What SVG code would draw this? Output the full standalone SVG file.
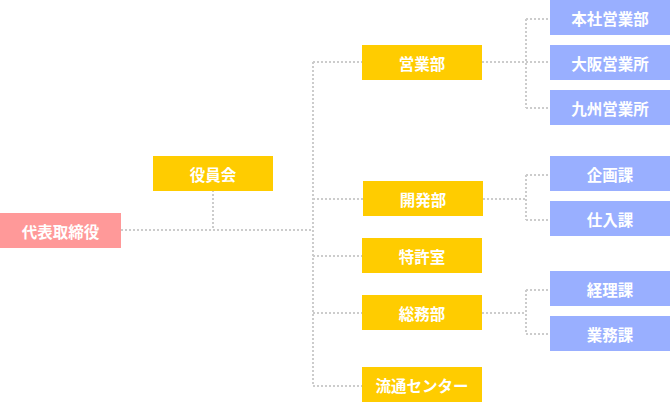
<svg xmlns="http://www.w3.org/2000/svg" width="670" height="402" viewBox="0 0 670 402">
<style>
.l{fill:none;stroke:#cccccc;stroke-width:2;stroke-dasharray:2 2}
.t{font-family:"Noto Sans CJK JP","Noto Sans",sans-serif;font-size:15.5px;font-weight:bold;fill:#ffffff;text-anchor:middle;dominant-baseline:central}
.y{fill:#ffcc00}.b{fill:#99afff}.p{fill:#ff9999}
</style>
<rect width="670" height="402" fill="#ffffff"/>
<g id="connectors">
<path class="l" d="M121 230H313"/>
<path class="l" d="M213 190V230"/>
<path class="l" d="M313 62V386"/>
<path class="l" d="M313 62H362M313 199H363M313 256H362M313 313H362M313 386H362"/>
<path class="l" d="M482 62H550M526 19V108M526 19H550M526 108H550"/>
<path class="l" d="M483 199H526M526 175V220M526 175H550M526 220H550"/>
<path class="l" d="M482 313H526M526 290V334M526 290H550M526 334H550"/>
</g>
<g id="n-daihyo"><rect class="p" x="0" y="213" width="121" height="35"/><text class="t" x="60.5" y="230.5">代表取締役</text></g>
<g id="n-yakuin"><rect class="y" x="153" y="156" width="120" height="35"/><text class="t" x="213" y="173.5">役員会</text></g>
<g id="n-eigyo"><rect class="y" x="362" y="45" width="120" height="35"/><text class="t" x="422" y="62.5">営業部</text></g>
<g id="n-kaihatsu"><rect class="y" x="363" y="181" width="120" height="35"/><text class="t" x="423" y="198.5">開発部</text></g>
<g id="n-tokkyo"><rect class="y" x="362" y="238" width="120" height="35"/><text class="t" x="422" y="255.5">特許室</text></g>
<g id="n-somu"><rect class="y" x="362" y="295" width="120" height="35"/><text class="t" x="422" y="312.5">総務部</text></g>
<g id="n-ryutsu"><rect class="y" x="362" y="367" width="120" height="35"/><text class="t" x="422" y="384.5">流通センター</text></g>
<g id="n-honsha"><rect class="b" x="550" y="0" width="120" height="35"/><text class="t" x="610" y="17.5">本社営業部</text></g>
<g id="n-osaka"><rect class="b" x="550" y="45" width="120" height="35"/><text class="t" x="610" y="62.5">大阪営業所</text></g>
<g id="n-kyushu"><rect class="b" x="550" y="90" width="120" height="35"/><text class="t" x="610" y="107.5">九州営業所</text></g>
<g id="n-kikaku"><rect class="b" x="550" y="156" width="120" height="35"/><text class="t" x="610" y="173.5">企画課</text></g>
<g id="n-shiire"><rect class="b" x="550" y="201" width="120" height="35"/><text class="t" x="610" y="218.5">仕入課</text></g>
<g id="n-keiri"><rect class="b" x="550" y="271" width="120" height="35"/><text class="t" x="610" y="288.5">経理課</text></g>
<g id="n-gyomu"><rect class="b" x="550" y="316" width="120" height="35"/><text class="t" x="610" y="333.5">業務課</text></g>
</svg>
